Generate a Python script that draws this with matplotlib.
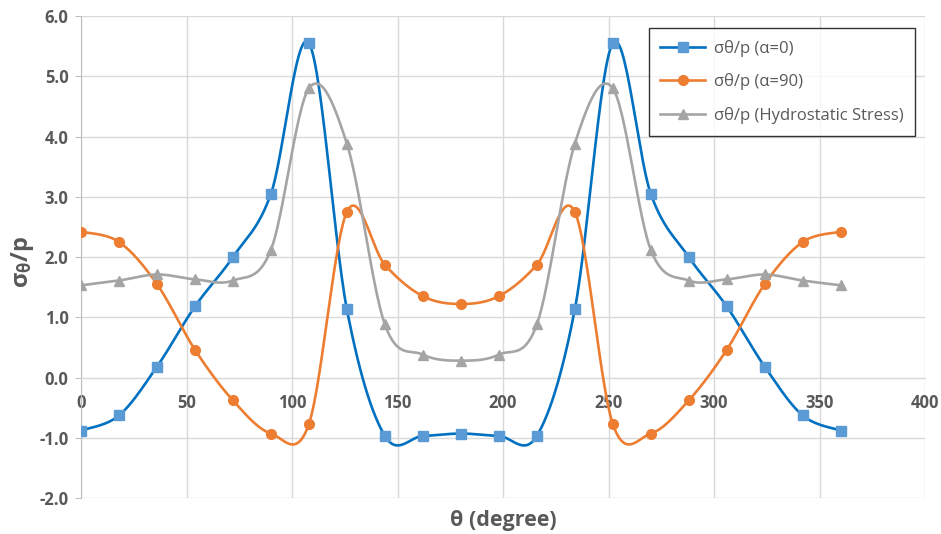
import numpy as np
import matplotlib
matplotlib.use("Agg")
import matplotlib.pyplot as plt

# theta positions (degree) and stress ratios
theta = [0, 18, 36, 54, 72, 90, 108, 126, 144, 162, 180,
         198, 216, 234, 252, 270, 288, 306, 324, 342, 360]
s_alpha0 = [-0.88, -0.63, 0.18, 1.18, 2.00, 3.05, 5.55, 1.13, -0.97, -0.97, -0.93,
            -0.97, -0.97, 1.13, 5.55, 3.05, 2.00, 1.18, 0.18, -0.63, -0.88]
s_alpha90 = [2.42, 2.25, 1.55, 0.46, -0.38, -0.93, -0.77, 2.75, 1.87, 1.35, 1.22,
             1.35, 1.87, 2.75, -0.77, -0.93, -0.38, 0.46, 1.55, 2.25, 2.42]
s_hydro = [1.53, 1.61, 1.71, 1.63, 1.61, 2.12, 4.80, 3.88, 0.88, 0.38, 0.28,
           0.38, 0.88, 3.88, 4.80, 2.12, 1.61, 1.63, 1.71, 1.61, 1.53]
labels = ["σθ/p (α=0)", "σθ/p (α=90)", "σθ/p (Hydrostatic Stress)"]

plt.rcParams['font.family'] = ['Open Sans', 'DejaVu Sans']
plt.rcParams['mathtext.fontset'] = 'custom'
plt.rcParams['mathtext.rm'] = 'Open Sans:bold'
plt.rcParams['mathtext.it'] = 'Open Sans:bold'
plt.rcParams['mathtext.bf'] = 'Open Sans:bold'

TXT = '#595959'
GRID = '#D9D9D9'


def smooth(xs, ys, n=30):
    # Excel-like smoothed line: Catmull-Rom style cubic Bezier segments
    p = np.column_stack([xs, ys]).astype(float)
    p = np.vstack([p[0], p, p[-1]])
    out = []
    t = np.linspace(0, 1, n)[:, None]
    for i in range(1, len(p) - 2):
        p0, p1, p2, p3 = p[i - 1], p[i], p[i + 1], p[i + 2]
        c1 = p1 + (p2 - p0) / 6.0
        c2 = p2 - (p3 - p1) / 6.0
        seg = ((1 - t) ** 3) * p1 + 3 * ((1 - t) ** 2) * t * c1 + 3 * (1 - t) * t ** 2 * c2 + t ** 3 * p2
        out.append(seg if i == 1 else seg[1:])
    out = np.vstack(out)
    return out[:, 0], out[:, 1]


fig = plt.figure(figsize=(9.41, 5.34), dpi=100)
ax = fig.add_axes([0.0861, 0.0674, 0.897, 0.9026])

series = [
    (s_alpha0, '#0070C0', '#5B9BD5', 's'),
    (s_alpha90, '#ED7D31', '#ED7D31', 'o'),
    (s_hydro, '#A5A5A5', '#A5A5A5', '^'),
]
for (vals, lc, mc, mk), lab in zip(series, labels):
    sx, sy = smooth(theta, vals)
    ax.plot(sx, sy, color=lc, lw=1.9, zorder=3)
    ax.plot(theta, vals, ls='none', marker=mk, ms=7, color=mc, mec=mc, zorder=4)
    ax.plot([], [], color=lc, lw=1.9, marker=mk, ms=7, mfc=mc, mec=mc, label=lab)

ax.set_xlim(0, 400)
ax.set_ylim(-2, 6)
ax.set_xticks(np.arange(0, 401, 50))
ax.set_yticks(np.arange(-2, 6.01, 1))
ax.set_yticklabels([f"{v:.1f}" for v in np.arange(-2, 6.01, 1)])
ax.grid(True, color=GRID, lw=1)
ax.set_axisbelow(True)

for s in ['top', 'right']:
    ax.spines[s].set_visible(False)
ax.spines['bottom'].set_position(('data', 0))
ax.spines['bottom'].set_color(GRID)
ax.spines['left'].set_color('#BFBFBF')
ax.tick_params(axis='x', length=0, pad=12, labelsize=12, labelcolor=TXT)
ax.tick_params(axis='y', length=4, color='#BFBFBF', pad=5, labelsize=12, labelcolor=TXT)
for t in ax.get_xticklabels() + ax.get_yticklabels():
    t.set_fontweight('bold')

fig.text(22 / 941, 1 - 262 / 534, r'$\sigma_{\theta}$/p', rotation=90, ha='center', va='center',
         fontsize=17, fontweight='bold', color=TXT)
fig.text(503 / 941, 1 - 510 / 534, 'θ (degree)', ha='center', va='top',
         fontsize=15.5, fontweight='bold', color=TXT)

leg = ax.legend(loc='upper right', bbox_to_anchor=(915 / 941, 1 - 28 / 534),
                bbox_transform=fig.transFigure, frameon=True, fancybox=False,
                fontsize=12, handlelength=2.7, borderpad=0.7, labelspacing=1.0,
                handletextpad=0.5, borderaxespad=0)
leg.get_frame().set_edgecolor('black')
leg.get_frame().set_linewidth(1)
for t in leg.get_texts():
    t.set_color(TXT)

fig.savefig('out.png', dpi=100)
